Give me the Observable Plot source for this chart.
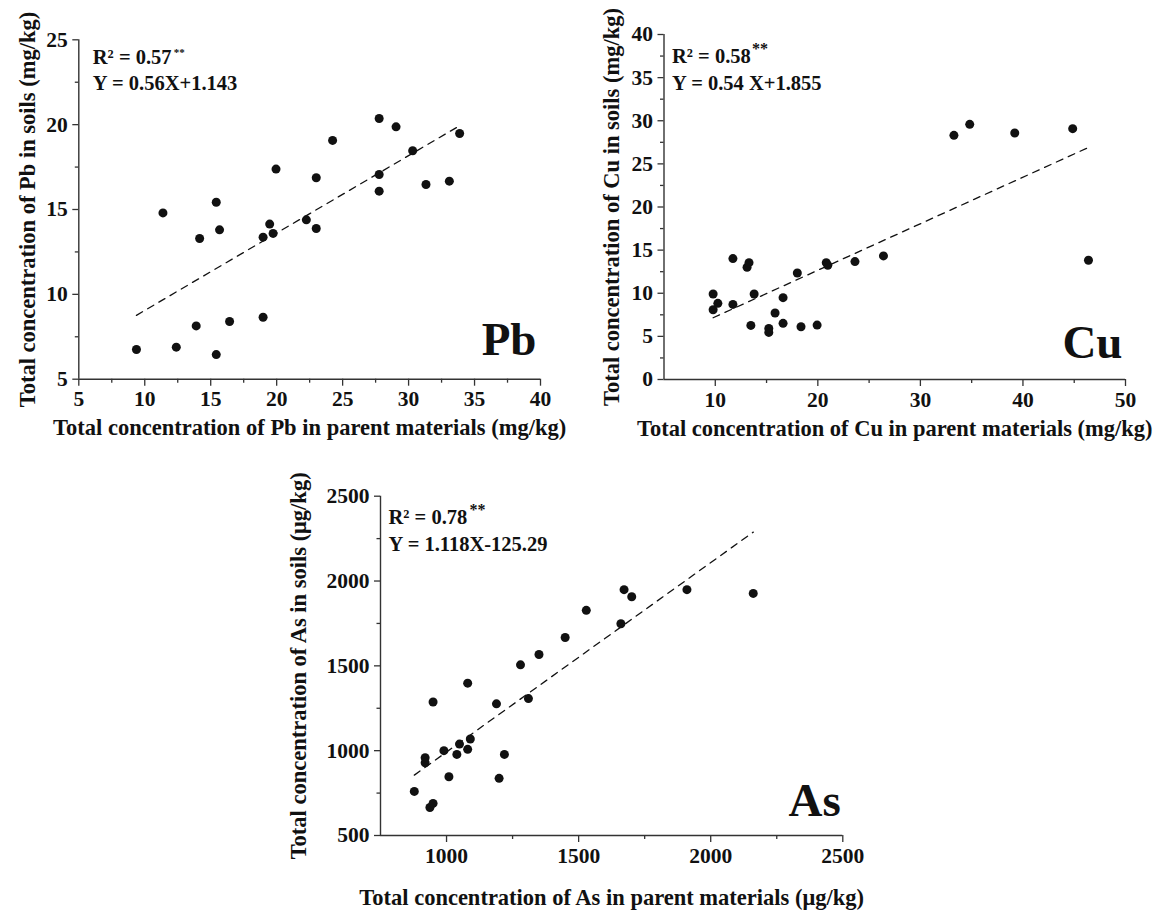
<!DOCTYPE html>
<html><head><meta charset="utf-8">
<script src="https://cdn.jsdelivr.net/npm/d3@7"></script>
<script src="https://cdn.jsdelivr.net/npm/@observablehq/plot@0.6"></script>
<style>
html,body{margin:0;padding:0;background:#fff;}
#root{position:relative;width:1155px;height:910px;overflow:hidden;background:#fff;}
.panel{position:absolute;}
.panel svg text{font-family:'Liberation Serif','Times New Roman',serif !important;font-weight:700 !important;}
</style></head><body><div id="root"></div>
<script>
// ---- Pb ----
const pbParent = [9.37, 11.38, 12.39, 13.9, 14.16, 15.42, 15.42, 15.67, 16.43, 18.97, 18.97, 19.47, 19.73, 19.95, 22.25, 23.0, 23.0, 24.24, 27.77, 27.77, 27.77, 29.05, 30.31, 31.32, 33.09, 33.87];
const pbSoil   = [6.75, 14.8, 6.89, 8.14, 13.29, 15.43, 6.45, 13.8, 8.4, 13.37, 8.65, 14.14, 13.59, 17.38, 14.39, 16.87, 13.88, 19.07, 20.36, 17.06, 16.08, 19.87, 18.46, 16.47, 16.67, 19.48];
const pbXDomain = [5, 40], pbYDomain = [5, 25];
const pbXTicks = [5, 10, 15, 20, 25, 30, 35, 40];
const pbXMinor = [7.5, 12.5, 17.5, 22.5, 27.5, 32.5, 37.5];
const pbYTicks = [5, 10, 15, 20, 25];
const pbYMinor = [7.5, 12.5, 17.5, 22.5];

// ---- Cu ----
const cuParent = [9.79, 9.79, 10.25, 11.72, 11.72, 13.1, 13.29, 13.47, 13.79, 15.22, 15.22, 15.83, 16.61, 16.61, 18.0, 18.36, 19.93, 20.82, 20.97, 23.62, 26.4, 33.27, 34.81, 39.2, 44.85, 46.39];
const cuSoil   = [9.91, 8.09, 8.83, 14.02, 8.71, 13.01, 13.55, 6.27, 9.91, 5.92, 5.46, 7.71, 9.49, 6.51, 12.35, 6.12, 6.31, 13.55, 13.24, 13.67, 14.33, 28.31, 29.58, 28.58, 29.08, 13.82];
const cuXDomain = [5, 50], cuYDomain = [0, 40];
const cuXTicks = [10, 20, 30, 40, 50];
const cuXMinor = [15, 25, 35, 45];
const cuYTicks = [0, 5, 10, 15, 20, 25, 30, 35, 40];
const cuYMinor = [2.5, 7.5, 12.5, 17.5, 22.5, 27.5, 32.5, 37.5];

// ---- As ----
const asParent = [878, 919, 919, 937, 949, 949, 990, 1009, 1039, 1049, 1080, 1080, 1090, 1189, 1199, 1219, 1280, 1310, 1350, 1449, 1529, 1660, 1672, 1701, 1910, 2161];
const asSoil   = [760, 959, 929, 665, 689, 1287, 1000, 846, 978, 1039, 1008, 1398, 1069, 1276, 837, 978, 1506, 1307, 1567, 1667, 1827, 1748, 1949, 1907, 1949, 1927];
const asXDomain = [750, 2500], asYDomain = [500, 2500];
const asXTicks = [1000, 1500, 2000, 2500];
const asXMinor = [1250, 1750, 2250];
const asYTicks = [500, 1000, 1500, 2000, 2500];
const asYMinor = [750, 1250, 1750, 2250];

// ---- texts ----
const elementLabels = ["Pb", "Cu", "As"];
const r2Labels = ["R\u00B2 = 0.57", "R\u00B2 = 0.58", "R\u00B2 = 0.78"];
const eqLabels = ["Y = 0.56X+1.143", "Y = 0.54 X+1.855", "Y = 1.118X-125.29"];
const xTitles = [
  "Total concentration of Pb in parent materials (mg/kg)",
  "Total concentration of Cu in parent materials (mg/kg)",
  "Total concentration of As in parent materials (\u03BCg/kg)"
];
const yTitles = [
  "Total concentration of Pb in soils (mg/kg)",
  "Total concentration of Cu in soils (mg/kg)",
  "Total concentration of As in soils (\u03BCg/kg)"
];

const FONT = "'Liberation Serif', 'Times New Roman', serif";
const INK = "#111";
const AXIS = "#333";
const fmt = d => String(d);

function makePanel(c) {
  const data = c.px.map((x, i) => ({x, y: c.py[i]}));
  const txt = (s, o) => Plot.text([s], Object.assign({text: d => d, fill: INK, fontWeight: "bold"}, o));
  return Plot.plot({
    width: c.width, height: c.height,
    marginTop: c.m[0], marginRight: c.m[1], marginBottom: c.m[2], marginLeft: c.m[3],
    x: {domain: c.xd, axis: null},
    y: {domain: c.yd, axis: null},
    style: {fontFamily: FONT, fontSize: "21px", fontWeight: "bold", color: INK, background: "white", overflow: "visible"},
    marks: [
      Plot.axisX(c.xt, {anchor: "bottom", tickSize: 7, tickPadding: 5, stroke: AXIS, strokeWidth: 1.3, label: null, tickFormat: fmt, fontSize: 21.5, fontWeight: "bold", fill: INK}),
      Plot.axisX(c.xm, {anchor: "bottom", tickSize: 4, tickPadding: 0, stroke: AXIS, strokeWidth: 1.3, label: null, tickFormat: () => ""}),
      Plot.axisY(c.yt, {anchor: "left", tickSize: 6, tickPadding: 5, stroke: AXIS, strokeWidth: 1.3, label: null, tickFormat: fmt, fontSize: 21.5, fontWeight: "bold", fill: INK}),
      Plot.axisY(c.ym, {anchor: "left", tickSize: 3.5, tickPadding: 0, stroke: AXIS, strokeWidth: 1.3, label: null, tickFormat: () => ""}),
      Plot.ruleY([c.yd[0]], {stroke: AXIS, strokeWidth: 1.4}),
      Plot.ruleX([c.xd[0]], {stroke: AXIS, strokeWidth: 1.4}),
      Plot.linearRegressionY(data, {x: "x", y: "y", ci: 0, stroke: INK, strokeWidth: 1.3, strokeDasharray: "7,6"}),
      Plot.dot(data, {x: "x", y: "y", r: 4.5, fill: INK, stroke: "none"}),
      txt(c.r2, {frameAnchor: "top-left", textAnchor: "start", lineAnchor: "bottom", dx: c.ax, dy: c.b1, fontSize: 20.5}),
      txt("**", {frameAnchor: "top-left", textAnchor: "start", lineAnchor: "bottom", dx: c.sx, dy: c.sy, fontSize: c.ss}),
      txt(c.eq, {frameAnchor: "top-left", textAnchor: "start", lineAnchor: "bottom", dx: c.ax, dy: c.b2, fontSize: 20.5}),
      txt(c.el, {frameAnchor: "bottom-right", textAnchor: "end", lineAnchor: "bottom", dx: c.ex, dy: c.ey, fontSize: 47}),
      txt(c.xtitle, {frameAnchor: "bottom", textAnchor: "middle", lineAnchor: "middle", dy: c.xty, fontSize: 22.5}),
      txt(c.ytitle, {frameAnchor: "left", textAnchor: "middle", lineAnchor: "middle", rotate: -90, dx: c.ytx, fontSize: 22.5})
    ]
  });
}

const panels = [
  {left: 0, top: 0, width: 575, height: 440, m: [39.3, 35, 61.3, 78.3],
   px: pbParent, py: pbSoil, xd: pbXDomain, yd: pbYDomain, xt: pbXTicks, xm: pbXMinor, yt: pbYTicks, ym: pbYMinor,
   r2: r2Labels[0], eq: eqLabels[0], el: elementLabels[0], xtitle: xTitles[0], ytitle: yTitles[0],
   ax: 14, b1: 24, b2: 50, sx: 95, sy: 16, ss: 11, ex: -4, ey: -24, xty: 49, ytx: -51},
  {left: 580, top: 0, width: 575, height: 440, m: [34, 30, 61, 83.5],
   px: cuParent, py: cuSoil, xd: cuXDomain, yd: cuYDomain, xt: cuXTicks, xm: cuXMinor, yt: cuYTicks, ym: cuYMinor,
   r2: r2Labels[1], eq: eqLabels[1], el: elementLabels[1], xtitle: xTitles[1], ytitle: yTitles[1],
   ax: 8, b1: 28.7, b2: 55.3, sx: 88, sy: 19, ss: 16, ex: -3, ey: -22, xty: 49, ytx: -52.5},
  {left: 280, top: 460, width: 600, height: 450, m: [35.7, 37.7, 75, 100],
   px: asParent, py: asSoil, xd: asXDomain, yd: asYDomain, xt: asXTicks, xm: asXMinor, yt: asYTicks, ym: asYMinor,
   r2: r2Labels[2], eq: eqLabels[2], el: elementLabels[2], xtitle: xTitles[2], ytitle: yTitles[2],
   ax: 8, b1: 27.6, b2: 54.3, sx: 89, sy: 18.3, ss: 16, ex: -2, ey: -20, xty: 62, ytx: -82}
];

const root = document.getElementById("root");
for (const c of panels) {
  const div = document.createElement("div");
  div.className = "panel";
  div.style.left = c.left + "px";
  div.style.top = c.top + "px";
  div.appendChild(makePanel(c));
  root.appendChild(div);
}
// make every label bold serif, including axis tick labels
d3.selectAll("#root svg text")
  .attr("font-weight", "bold")
  .style("font-weight", "700")
  .style("font-family", FONT);
</script>
</body></html>
